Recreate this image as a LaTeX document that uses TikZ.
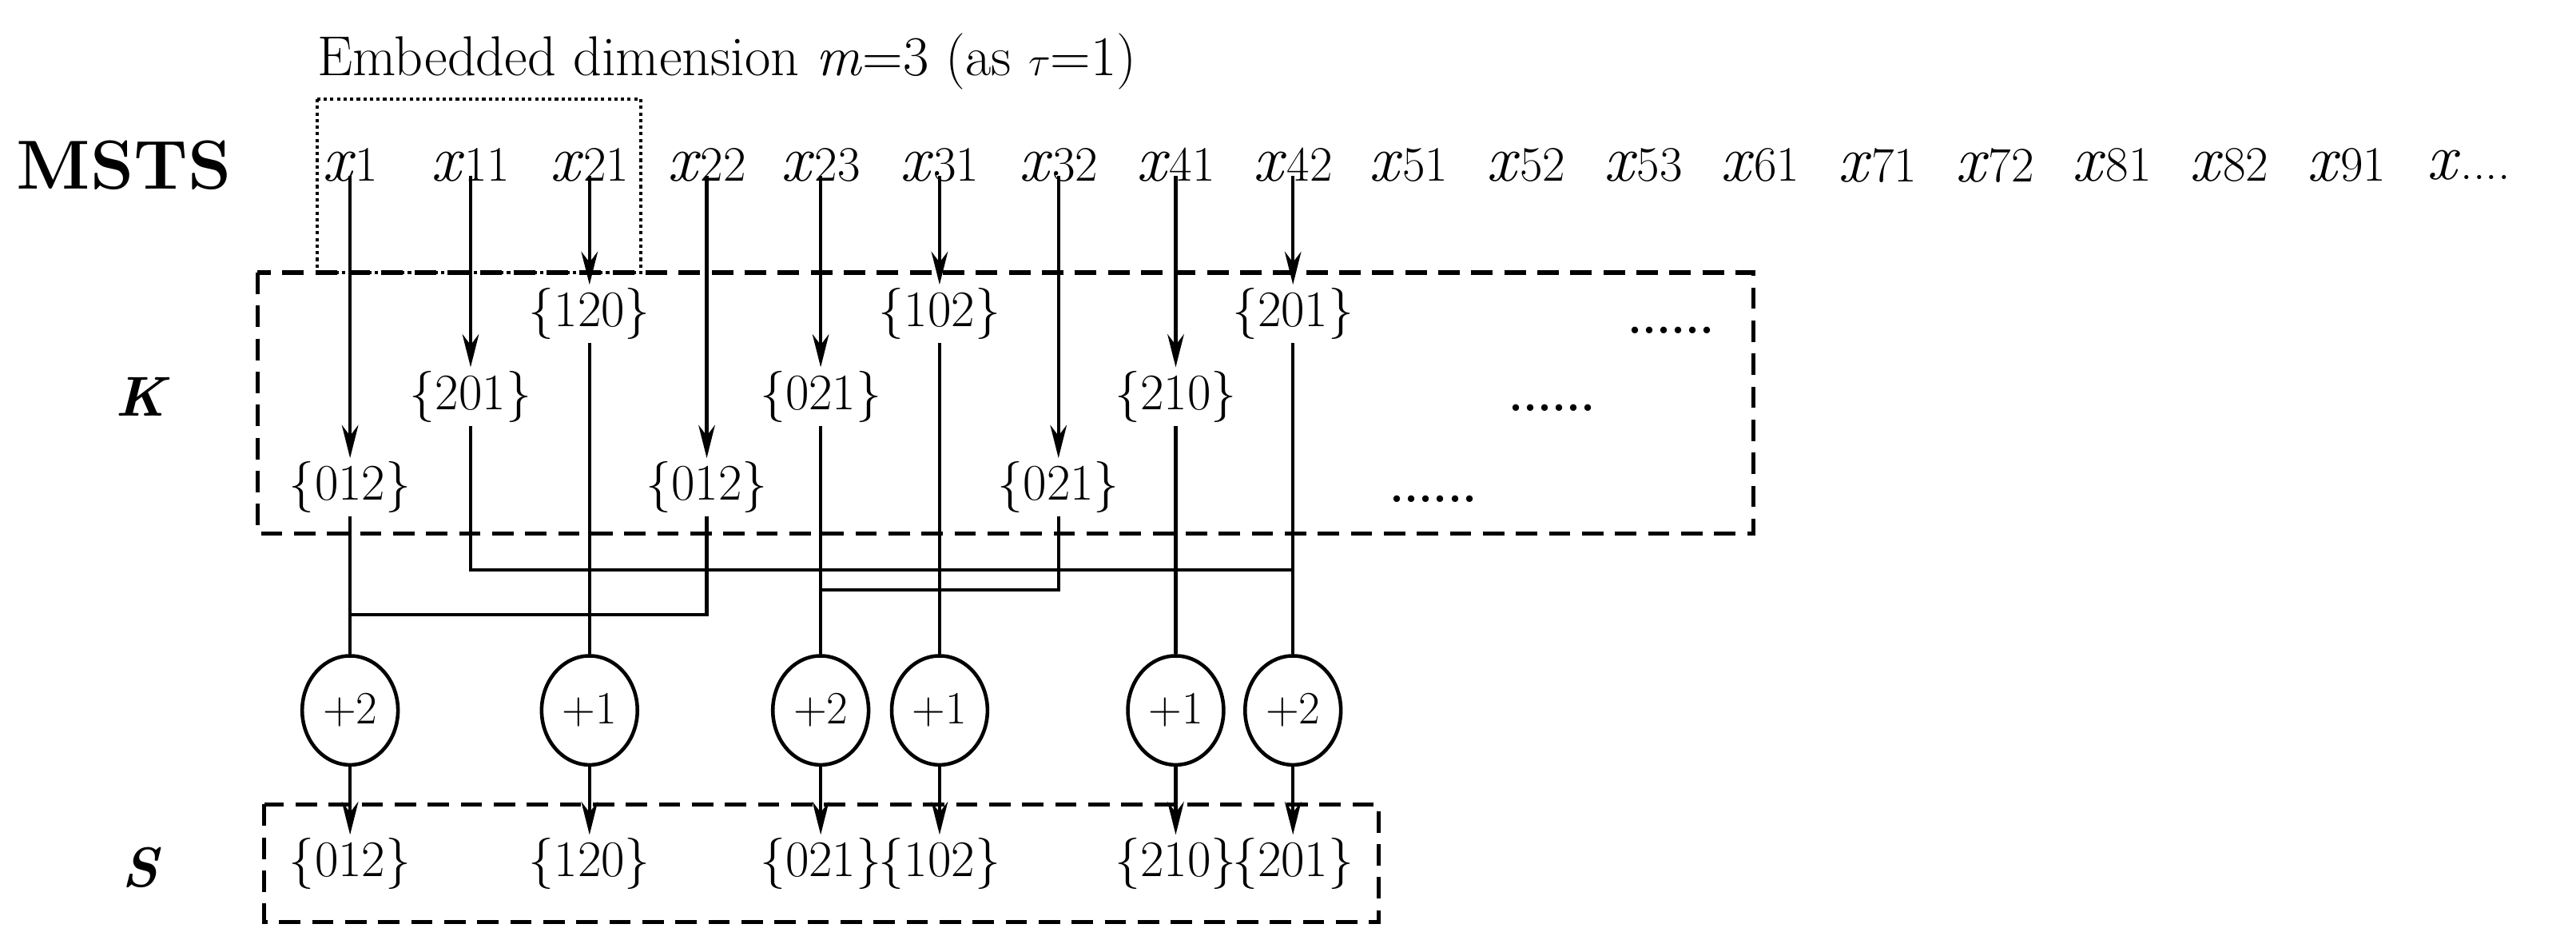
\documentclass[tikz,border=0pt]{standalone}
\usetikzlibrary{arrows.meta,shapes.geometric}
\begin{document}
\begin{tikzpicture}[x=1pt,y=-1pt,
  xl/.style={font=\fontsize{40}{40}\selectfont,inner sep=0pt},
  code/.style={font=\fontsize{31}{31}\selectfont,inner sep=2pt},
  arr/.style={line width=2pt,-{Stealth[length=20pt,width=10pt]}},
  ln/.style={line width=2pt},
  circ/.style={draw,ellipse,line width=2.2pt,minimum width=58pt,minimum height=66pt,inner sep=0pt,font=\fontsize{28}{28}\selectfont},
  dbox/.style={draw,line width=2.5pt,dash pattern=on 13pt off 7pt},
  lab/.style={font=\fontsize{34}{34}\selectfont\bfseries\itshape}]
\useasboundingbox (0,0) rectangle (1560,576);
\node[font=\fontsize{34}{34}\selectfont,anchor=west,inner sep=0pt] (title) at (192,37) {Embedded dimension \textit{m}=3 (as $\tau$=1)};
\node[font=\fontsize{42}{42}\selectfont\bfseries] (msts) at (75,100) {MSTS};
\node[lab] (K) at (85,240) {K};
\node[lab] (S) at (85,525) {S};
\draw[line width=2pt,dotted] (192,60) rectangle (388,165);
\foreach \n/\s/\xx in {a/1/212,b/11/285,c/21/357,d/22/428,e/23/497,f/31/569,g/32/641,h/41/712,i/42/783,j/51/853,k/52/924,l/53/995,m/61/1066,n/71/1137,o/72/1208,p/81/1279,q/82/1350,r/91/1421}
  \node[xl] (x\n) at (\xx,100) {\textit{x}\fontsize{30}{30}\selectfont\s};
\node[xl] (xs) at (1495,100) {\textit{x}\fontsize{30}{30}\selectfont....};
\draw[dbox] (156,165) rectangle (1062,323);
\draw[dbox] (160,487) rectangle (835,558);
% codes in K
\node[code] (k1) at (212,295) {\{012\}};
\node[code] (k2) at (285,240) {\{201\}};
\node[code] (k3) at (357,190) {\{120\}};
\node[code] (k4) at (428,295) {\{012\}};
\node[code] (k5) at (497,240) {\{021\}};
\node[code] (k6) at (569,190) {\{102\}};
\node[code] (k7) at (641,295) {\{021\}};
\node[code] (k8) at (712,240) {\{210\}};
\node[code] (k9) at (783,190) {\{201\}};
\node[font=\fontsize{28}{28}\selectfont\bfseries] (d1) at (1012,200) {......};
\node[font=\fontsize{28}{28}\selectfont\bfseries] (d2) at (940,247) {......};
\node[font=\fontsize{28}{28}\selectfont\bfseries] (d3) at (868,302) {......};
\foreach \a/\b in {a/1,b/2,c/3,d/4,e/5,f/6,g/7,h/8,i/9}
  \draw[arr] (x\a.south) ++(0,-4) -- (k\b.north);
% circles
\node[circ] (c1) at (212,430) {+2};
\node[circ] (c2) at (357,430) {+1};
\node[circ] (c3) at (497,430) {+2};
\node[circ] (c4) at (569,430) {+1};
\node[circ] (c5) at (712,430) {+1};
\node[circ] (c6) at (783,430) {+2};
\draw[ln] (k1.south) -- (c1.north);
\draw[ln] (k3.south) -- (c2.north);
\draw[ln] (k5.south) -- (c3.north);
\draw[ln] (k6.south) -- (c4.north);
\draw[ln] (k8.south) -- (c5.north);
\draw[ln] (k9.south) -- (c6.north);
\draw[ln] (k2.south) |- (783,345);
\draw[ln] (k4.south) |- (212,372);
\draw[ln] (k7.south) |- (497,357);
% S codes
\node[code] (s1) at (212,523) {\{012\}};
\node[code] (s2) at (357,523) {\{120\}};
\node[code] (s3) at (497,523) {\{021\}};
\node[code] (s4) at (569,523) {\{102\}};
\node[code] (s5) at (712,523) {\{210\}};
\node[code] (s6) at (783,523) {\{201\}};
\foreach \i in {1,...,6} \draw[arr] (c\i.south) -- (s\i.north);
\end{tikzpicture}
\end{document}
